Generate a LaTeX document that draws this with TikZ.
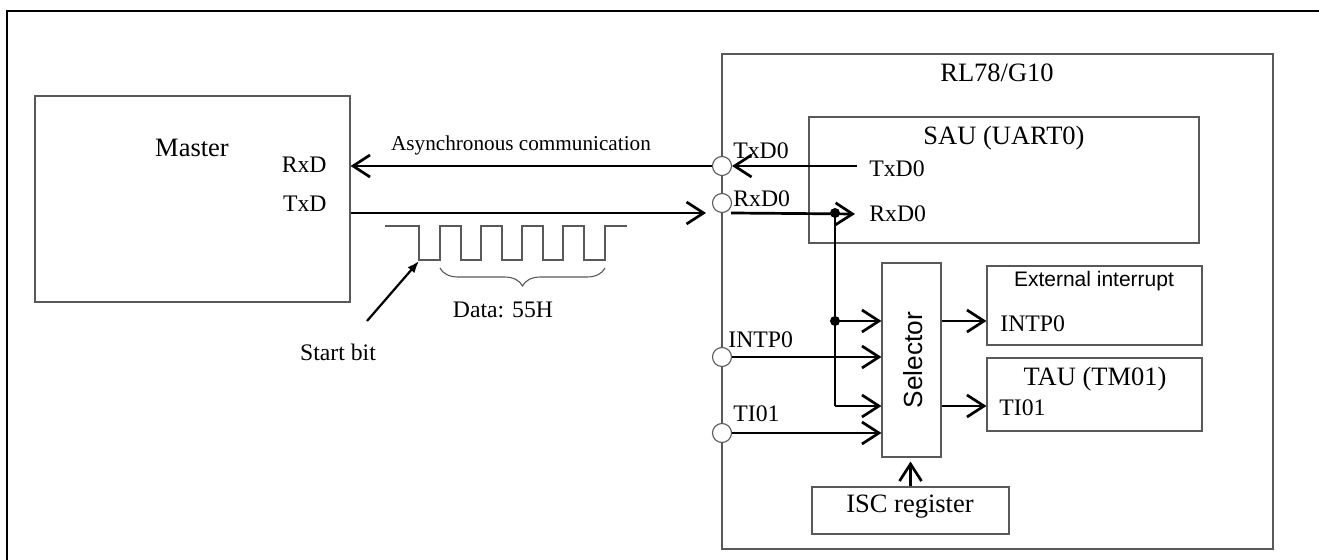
\documentclass[tikz,border=0pt]{standalone}
\usepackage{fontspec}
\setmainfont{Liberation Serif}
\newfontfamily\arialf{Liberation Sans}
\usetikzlibrary{arrows.meta,decorations.pathreplacing}
\begin{document}
\begin{tikzpicture}[x=0.5pt,y=-0.5pt,
  box/.style={draw=black!65,line width=0.55pt,inner sep=0pt},
  pin/.style={circle,draw=black!65,line width=0.55pt,fill=white,minimum size=9.5pt,inner sep=0pt},
  lbl/.style={inner sep=0pt,font=\fontsize{11.85}{13}\selectfont},
  big/.style={inner sep=0pt,font=\fontsize{13.25}{15}\selectfont},
  sml/.style={inner sep=0pt,font=\fontsize{10.6}{12}\selectfont},
  sans/.style={inner sep=0pt,font=\arialf\fontsize{10.5}{12}\selectfont},
  wire/.style={line width=1.35pt},
  sig/.style={line width=1.35pt,-{Straight Barb[length=8.5pt,width=11pt,line width=1.35pt]}},
  dot/.style={circle,fill=black,minimum size=5pt,inner sep=0pt}]
\useasboundingbox (0,0) rectangle (1319,560);
% outer frame (cropped)
\draw[line width=1.1pt] (7,560) -- (7,11) -- (1319,11);

% boxes
\node[box,minimum width=157.5pt,minimum height=103pt] (master) at (192.5,199) {};
\node[box,minimum width=275.5pt,minimum height=247.5pt] (rl78) at (997.5,301.5) {};
\node[box,minimum width=195pt,minimum height=63pt] (sau) at (1004,180) {};
\node[box,minimum width=29.5pt,minimum height=97pt] (sel) at (911.5,360) {};
\node[box,minimum width=107.5pt,minimum height=39.5pt] (ext) at (1094.5,305.5) {};
\node[box,minimum width=107.5pt,minimum height=36.5pt] (tau) at (1094.5,394.5) {};
\node[box,minimum width=98.5pt,minimum height=23.5pt] (isc) at (910.5,510.5) {};

% texts in boxes
\node[big] (mastert) at (192,148) {Master};
\node[lbl,anchor=east] (mrxd) at (327,165) {RxD};
\node[lbl,anchor=east] (mtxd) at (327,204) {TxD};
\node[big] (rl78t) at (997,73) {RL78/G10};
\node[big] (saut) at (1004,138) {SAU (UART0)};
\node[lbl,anchor=west] (sautxl) at (869,169) {TxD0};
\node[lbl,anchor=west] (saurxl) at (869,214) {RxD0};
\node[sans] (extt) at (1094,281) {External interrupt};
\node[lbl,anchor=west] (extin) at (1000,324) {INTP0};
\node[big] (taut) at (1095,379) {TAU (TM01)};
\node[lbl,anchor=west] (tauin) at (999,408) {TI01};
\node[inner sep=0pt,rotate=90,font=\arialf\fontsize{13.1}{15}\selectfont] (selt) at (913,360) {Selector};
\node[big] (isct) at (910,507) {ISC register};

% other labels
\node[sml] (async) at (521,145) {Asynchronous communication};
\node[lbl] (data) at (503,310) {Data: 55H};
\node[lbl] (sbit) at (338,352) {Start bit};

% coordinates
\coordinate (rxin) at (706,213);
\coordinate (rxout) at (731,213);
\coordinate (txsrc) at (857,166);
\coordinate (bend) at (835,406);
\coordinate (sbtail) at (367,321);
\coordinate (sbtip) at (419,261);

% pins
\node[pin] (txd0pin) at (722,166) {};
\node[pin] (rxd0pin) at (722,203) {};
\node[pin] (intppin) at (722,357) {};
\node[pin] (tipin) at (722,433) {};

% connectors
\draw[sig] (txd0pin.west) -- (txd0pin.west -| master.east);
\draw[sig] (master.east |- rxin) -- (rxin);
\draw[sig] (txsrc) -- (txd0pin.east);
\draw[sig] (rxout) -- ([xshift=-7pt]saurxl.west);
\node[dot] (d1) at (835,213) {};
\node[dot] (d2) at (835,321) {};
\draw[wire] (d1.center) -- (bend);
\draw[sig] (d2.center) -- (d2 -| sel.west);
\draw[sig] (bend) -- (bend -| sel.west);
\draw[sig] (intppin.east) -- (intppin -| sel.west);
\draw[sig] (tipin.east) -- (tipin -| sel.west);
\draw[sig] (sel.east |- d2) -- (d2 -| ext.west);
\draw[sig] (sel.east |- bend) -- (bend -| tau.west);
\draw[sig] (isc.north) -- ([yshift=-2pt]isc.north |- sel.south);

% pin labels
\node[lbl,anchor=west] (txd0l) at (733,151) {TxD0};
\node[lbl,anchor=west] (rxd0l) at (733,199) {RxD0};
\node[lbl,anchor=west] (intpl) at (728,340) {INTP0};
\node[lbl,anchor=west] (til) at (733,414) {TI01};

% waveform
\draw[black!65,line width=0.55pt] (385,226) -- (419,226) -- (419,260) -- (440,260) -- (440,226)
  -- (461,226) -- (461,260) -- (481,260) -- (481,226) -- (502,226) -- (502,260)
  -- (522,260) -- (522,226) -- (543,226) -- (543,260) -- (563,260) -- (563,226)
  -- (584,226) -- (584,260) -- (605,260) -- (605,226) -- (627,226);
\draw[black!65,line width=0.55pt,decorate,decoration={brace,amplitude=9pt}] (605,268) -- (440,268);
\draw[line width=1.1pt,-{Latex[length=6pt,width=4.5pt]}] (sbtail) -- (sbtip);
\end{tikzpicture}
\end{document}
